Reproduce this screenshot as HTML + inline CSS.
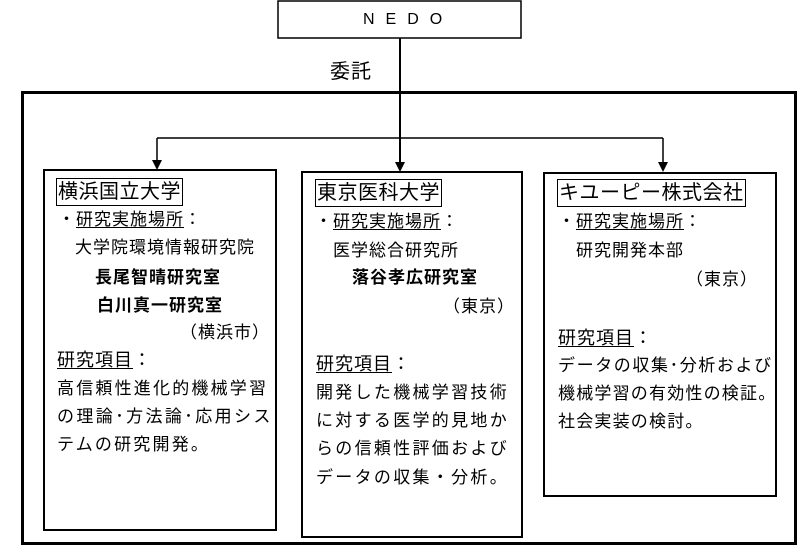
<!DOCTYPE html>
<html><head><meta charset="utf-8"><style>
body{margin:0;width:800px;height:547px;background:#fff;position:relative;overflow:hidden;font-family:"Liberation Sans","Noto Sans CJK JP",sans-serif;color:#000}
.a{position:absolute;white-space:nowrap;font-size:17px;line-height:20px;letter-spacing:1px}
.b{position:absolute;border:2px solid #000;box-sizing:border-box}
.u{text-decoration:underline;text-decoration-thickness:1px;text-underline-offset:2px}
.t{border:1px solid #000;font-size:20px;line-height:26px;padding:0 1px;letter-spacing:0.5px}
.bold{font-weight:bold}
.sp{letter-spacing:2.2px}
</style></head><body>
<svg style="position:absolute;left:0;top:0" width="800" height="547">
<rect x="278" y="1" width="243" height="37" fill="none" stroke="#000" stroke-width="1.5"/>
<line x1="400" y1="38" x2="400" y2="162" stroke="#000" stroke-width="2"/>
<line x1="157" y1="138" x2="663" y2="138" stroke="#000" stroke-width="1.5"/>
<line x1="157" y1="138" x2="157" y2="160" stroke="#000" stroke-width="1.5"/>
<line x1="663" y1="138" x2="663" y2="162" stroke="#000" stroke-width="1.5"/>
<polygon points="152,160 162,160 157,170" fill="#000"/>
<polygon points="395,162 405,162 400,172" fill="#000"/>
<polygon points="658,162 668,162 663,172" fill="#000"/>
<rect x="22.5" y="92.5" width="773" height="451" fill="none" stroke="#000" stroke-width="3"/>
</svg>
<div class="a" style="left:363px;top:10px;letter-spacing:11px;font-size:16px">NEDO</div>
<div class="a" style="left:330px;top:60px;font-size:20px;line-height:24px">委託</div>

<div class="b" style="left:43px;top:169px;width:234px;height:362px"></div>
<div class="b" style="left:301px;top:171px;width:222px;height:367px"></div>
<div class="b" style="left:543px;top:172px;width:234px;height:325px"></div>

<!-- left -->
<div class="a t" style="left:56px;top:178px">横浜国立大学</div>
<div class="a" style="left:58px;top:210px">・<span class="u">研究実施場所</span>：</div>
<div class="a" style="left:75px;top:238px">大学院環境情報研究院</div>
<div class="a bold" style="left:95px;top:268px">長尾智晴研究室</div>
<div class="a bold" style="left:97px;top:296px">白川真一研究室</div>
<div class="a" style="left:180px;top:323px">（横浜市）</div>
<div class="a u" style="left:57px;top:350px;font-size:18px">研究項目</div><div class="a" style="left:133px;top:350px;font-size:18px">：</div>
<div class="a sp" style="left:57px;top:379px">高信頼性進化的機械学習</div>
<div class="a" style="left:57px;top:407px;letter-spacing:2.4px">の理論･方法論･応用シス</div>
<div class="a sp" style="left:57px;top:435px">テムの研究開発。</div>

<!-- middle -->
<div class="a t" style="left:315px;top:179px">東京医科大学</div>
<div class="a" style="left:315px;top:212px">・<span class="u">研究実施場所</span>：</div>
<div class="a" style="left:333px;top:241px">医学総合研究所</div>
<div class="a bold" style="left:352px;top:268px">落谷孝広研究室</div>
<div class="a" style="left:443px;top:297px">（東京）</div>
<div class="a u" style="left:316px;top:354px;font-size:18px">研究項目</div><div class="a" style="left:392px;top:354px;font-size:18px">：</div>
<div class="a" style="left:316px;top:383px;letter-spacing:2.3px">開発した機械学習技術</div>
<div class="a" style="left:316px;top:411px;letter-spacing:2.3px">に対する医学的見地か</div>
<div class="a" style="left:316px;top:439px;letter-spacing:2.3px">らの信頼性評価および</div>
<div class="a" style="left:316px;top:468px;letter-spacing:2.3px">データの収集・分析。</div>

<!-- right -->
<div class="a t" style="left:557px;top:179px">キユーピー株式会社</div>
<div class="a" style="left:558px;top:212px">・<span class="u">研究実施場所</span>：</div>
<div class="a" style="left:576px;top:241px">研究開発本部</div>
<div class="a" style="left:686px;top:270px">（東京）</div>
<div class="a u" style="left:558px;top:328px;font-size:18px">研究項目</div><div class="a" style="left:634px;top:328px;font-size:18px">：</div>
<div class="a" style="left:558px;top:356px;letter-spacing:1.6px">データの収集･分析および</div>
<div class="a" style="left:558px;top:384px;letter-spacing:1.2px">機械学習の有効性の検証。</div>
<div class="a" style="left:558px;top:412px;letter-spacing:1.2px">社会実装の検討。</div>
</body></html>
